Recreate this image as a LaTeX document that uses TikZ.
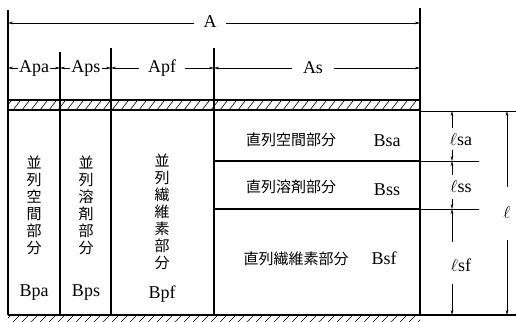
\documentclass[tikz,border=0pt]{standalone}
\usepackage{fontspec}
\setmainfont{Liberation Serif}
\newfontfamily\jp{Noto Sans CJK JP}
\usetikzlibrary{arrows.meta}
\begin{document}
\begin{tikzpicture}[x=1pt,y=-1pt,
  main/.style={line width=1.1pt},
  dim/.style={line width=0.6pt},
  arr/.style={dim,-{Stealth[length=5pt,width=2.6pt]}},
  lbl/.style={font=\fontsize{18}{20}\selectfont, inner sep=1pt},
  jlbl/.style={font=\jp\fontsize{15}{17}\selectfont, inner sep=0pt},
  vlbl/.style={font=\jp\fontsize{15}{17}\selectfont, align=center, inner sep=0pt},
  hatch/.style={line width=0.6pt}]
\useasboundingbox (0,0) rectangle (516,321);
% hatched plates
\begin{scope}
\clip (8,100) rectangle (420,110);
\foreach \x in {4,13,...,430} \draw[hatch] (\x,110) -- (\x+7,101);
\end{scope}
\draw[line width=1.5pt] (8,100) -- (420,100);
\draw[main] (8,110) -- (420,110);
\begin{scope}
\clip (8,315) rectangle (420,321);
\foreach \x in {4,13,...,430} \draw[hatch] (\x,322) -- (\x+6,316);
\end{scope}
% main outline
\draw[main] (8,10) -- (8,315);
\draw[main] (420,8) -- (420,315);
\draw[main] (60,52) -- (60,315);
\draw[main] (111,48) -- (111,315);
\draw[main] (214,48) -- (214,315);
\draw[main] (8,315) -- (516,315);
\draw[dim] (420,111) -- (516,111);
\draw[main] (214,161) -- (420,161);
\draw[main] (214,209) -- (420,209);
\draw[dim] (420,161) -- (479,161);
\draw[dim] (420,209) -- (479,209);
% A dimension
\node[lbl] (A) at (210,22) {A};
\coordinate (aL) at (8,23);
\coordinate (aR) at (420,23);
\draw[arr] (A.west) ++(-8,1) -- (aL);
\draw[arr] (A.east) ++(8,1) -- (aR);
% second row dimensions
\node[lbl] (apa) at (34,68) {Apa};
\node[lbl] (aps) at (86,68) {Aps};
\node[lbl] (apf) at (162,68) {Apf};
\node[lbl] (as) at (313,68) {As};
\draw[arr] (apa.west) -- (8,68);
\draw[arr] (apa.east) -- (60,68);
\draw[arr] (aps.west) -- (60,68);
\draw[arr] (aps.east) -- (111,68);
\draw[arr] (apf.west) ++(-8,0) -- (111,68);
\draw[arr] (apf.east) ++(8,0) -- (214,68);
\draw[arr] (as.west) ++(-10,0) -- (214,68);
\draw[arr] (as.east) ++(10,0) -- (420,68);
% parallel columns
\node[vlbl] (p1) at (34,205) {並\\列\\空\\間\\部\\分};
\node[vlbl] (p2) at (86,205) {並\\列\\溶\\剤\\部\\分};
\node[vlbl] (p3) at (162,212) {並\\列\\繊\\維\\素\\部\\分};
\node[lbl] (bpa) at (34,293) {Bpa};
\node[lbl] (bps) at (86,293) {Bps};
\node[lbl] (bpf) at (162,294) {Bpf};
% series rows
\node[jlbl] (s1) at (291,140) {直列空間部分};
\node[jlbl] (s2) at (291,187) {直列溶剤部分};
\node[jlbl] (s3) at (296,259) {直列繊維素部分};
\node[lbl] (bsa) at (387,141) {Bsa};
\node[lbl] (bss) at (387,190) {Bss};
\node[lbl] (bsf) at (384,258) {Bsf};
% right dimensions
\node[lbl] (lsa) at (461,140) {$\ell$sa};
\node[lbl] (lss) at (461,187) {$\ell$ss};
\node[lbl] (lsf) at (461,265) {$\ell$sf};
\node[lbl] (ll) at (507,212) {$\ell$};
\draw[arr] (452,128) -- (452,111);
\draw[arr] (452,150) -- (452,161);
\draw[arr] (452,175) -- (452,161);
\draw[arr] (452,199) -- (452,209);
\draw[arr] (452,242) -- (452,209);
\draw[arr] (452,284) -- (452,315);
\draw[arr] (507,187) -- (507,111);
\draw[arr] (507,240) -- (507,315);
\end{tikzpicture}
\end{document}
